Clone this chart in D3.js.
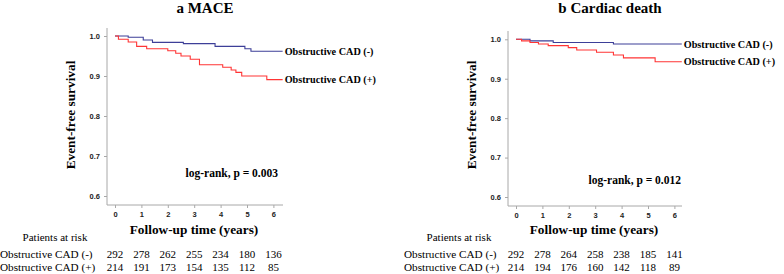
<!DOCTYPE html>
<html><head><meta charset="utf-8">
<script src="https://cdn.jsdelivr.net/npm/d3@7"></script>
<style>
body{margin:0;background:#fff;}
svg{display:block;}
</style></head>
<body><svg id="c" width="784" height="274"></svg>
<script>
// ---- data ----
const yTicks = [0.6, 0.7, 0.8, 0.9, 1.0];
const xTicks = [0, 1, 2, 3, 4, 5, 6];
const groupLabels = ["Obstructive CAD (-)", "Obstructive CAD (+)"];

const maceNegTime = [0, 0.5, 1.07, 1.42, 2.59, 3.79, 4.92, 5.15];
const maceNegSurv = [1, 0.997, 0.990, 0.984, 0.981, 0.974, 0.968, 0.962];
const macePosTime = [0, 0.13, 0.5, 0.82, 1.2, 2.0, 2.3, 2.5, 2.85, 3.2, 4.08, 4.4, 4.58, 4.8, 5.75];
const macePosSurv = [1, 0.992, 0.985, 0.974, 0.968, 0.963, 0.957, 0.950, 0.942, 0.928, 0.922, 0.915, 0.909, 0.900, 0.891];
const maceRiskNeg = [292, 278, 262, 255, 234, 180, 136];
const maceRiskPos = [214, 191, 173, 154, 135, 112, 85];

const cardNegTime = [0, 0.53, 1.41, 3.69];
const cardNegSurv = [1, 0.996, 0.992, 0.988];
const cardPosTime = [0, 0.21, 0.53, 0.85, 1.22, 1.98, 2.3, 3.05, 3.69, 4.07, 5.27];
const cardPosSurv = [1, 0.996, 0.992, 0.988, 0.984, 0.979, 0.973, 0.967, 0.960, 0.953, 0.943];
const cardRiskNeg = [292, 278, 264, 258, 238, 185, 141];
const cardRiskPos = [214, 194, 176, 160, 142, 118, 89];

const panels = [
  {title:"a MACE", pval:"log-rank, p = 0.003", negT:maceNegTime, negS:maceNegSurv, posT:macePosTime, posS:macePosSurv,
   riskNeg:maceRiskNeg, riskPos:maceRiskPos, endT:6.35,
   layout:{x0:115, x6:273.4, y1:36, y06:196, axTop:28, axBottom:205, axLeft:107, axRight:283, titleX:205, ylabX:71,
           pX:278, pY:177, parX:55, rowX:0}},
  {title:"b Cardiac death", pval:"log-rank, p = 0.012", negT:cardNegTime, negS:cardNegSurv, posT:cardPosTime, posS:cardPosSurv,
   riskNeg:cardRiskNeg, riskPos:cardRiskPos, endT:6.28,
   layout:{x0:516, x6:674.4, y1:39.3, y06:197, axTop:31, axBottom:206, axLeft:508, axRight:682, titleX:610, ylabX:472,
           pX:681, pY:184, parX:459, rowX:404}}
];

const blue = "#3d3f98", red = "#ff3535", axisCol = "#a8a8a8";
const serif = "'Liberation Serif','Times New Roman',serif";
const sans = "'Liberation Sans',Arial,sans-serif";
const svg = d3.select("#c");

panels.forEach(p => {
  const L = p.layout;
  const x = d3.scaleLinear().domain([0, 6]).range([L.x0, L.x6]);
  const y = d3.scaleLinear().domain([0.6, 1.0]).range([L.y06, L.y1]);
  const g = svg.append("g");

  // axes lines
  g.append("line").attr("x1", L.axLeft).attr("x2", L.axLeft).attr("y1", L.axTop).attr("y2", L.axBottom)
    .attr("stroke", axisCol).attr("stroke-width", 1);
  g.append("line").attr("x1", L.axLeft).attr("x2", L.axRight).attr("y1", L.axBottom).attr("y2", L.axBottom)
    .attr("stroke", axisCol).attr("stroke-width", 1);

  const ya = g.append("g").attr("transform", `translate(${L.axLeft},0)`)
    .call(d3.axisLeft(y).tickValues(yTicks).tickFormat(d3.format(".1f")).tickSize(3).tickPadding(4));
  const xa = g.append("g").attr("transform", `translate(0,${L.axBottom})`)
    .call(d3.axisBottom(x).tickValues(xTicks).tickFormat(d3.format("d")).tickSize(3).tickPadding(4));
  [ya, xa].forEach(a => {
    a.select(".domain").remove();
    a.selectAll(".tick line").attr("stroke", axisCol);
    a.selectAll(".tick text").attr("fill", "#222").style("font-family", sans)
      .style("font-size", "7.5px").style("font-weight", "bold");
  });

  // curves
  const line = d3.line().x(d => x(d[0])).y(d => y(d[1])).curve(d3.curveStepAfter);
  [[p.negT, p.negS, blue], [p.posT, p.posS, red]].forEach(([T, S, col], i) => {
    const pts = T.map((t, k) => [t, S[k]]);
    pts.push([p.endT, S[S.length - 1]]);
    g.append("path").attr("d", line(pts)).attr("fill", "none").attr("stroke", col).attr("stroke-width", 1.1);
    g.append("text").attr("x", x(p.endT) + 2).attr("y", y(S[S.length - 1]) + 3.5)
      .text(groupLabels[i]).style("font-family", serif).style("font-size", "10.2px").style("font-weight", "bold");
  });

  // titles
  g.append("text").attr("x", L.titleX).attr("y", 13).attr("text-anchor", "middle").text(p.title)
    .style("font-family", serif).style("font-size", "15px").style("font-weight", "bold");
  g.append("text").attr("x", (L.axLeft + L.axRight) / 2 - 1).attr("y", 234).attr("text-anchor", "middle")
    .text("Follow-up time (years)").style("font-family", serif).style("font-size", "13.3px").style("font-weight", "bold");
  g.append("text").attr("transform", `translate(${L.ylabX + 4},115) rotate(-90)`).attr("text-anchor", "middle")
    .text("Event-free survival").style("font-family", serif).style("font-size", "13.3px").style("font-weight", "bold");
  g.append("text").attr("x", L.pX).attr("y", L.pY).attr("text-anchor", "end").text(p.pval)
    .style("font-family", serif).style("font-size", "11.5px").style("font-weight", "bold");

  // risk table
  g.append("text").attr("x", L.parX).attr("y", 241).attr("text-anchor", "middle").text("Patients at risk")
    .style("font-family", serif).style("font-size", "11px");
  [[p.riskNeg, 258], [p.riskPos, 271]].forEach(([vals, yy], i) => {
    g.append("text").attr("x", L.rowX).attr("y", yy).text(groupLabels[i])
      .style("font-family", serif).style("font-size", "11.2px");
    g.selectAll(null).data(vals).enter().append("text")
      .attr("x", (d, k) => x(xTicks[k])).attr("y", yy).attr("text-anchor", "middle").text(d => d)
      .style("font-family", serif).style("font-size", "11px");
  });
});
</script></body></html>
